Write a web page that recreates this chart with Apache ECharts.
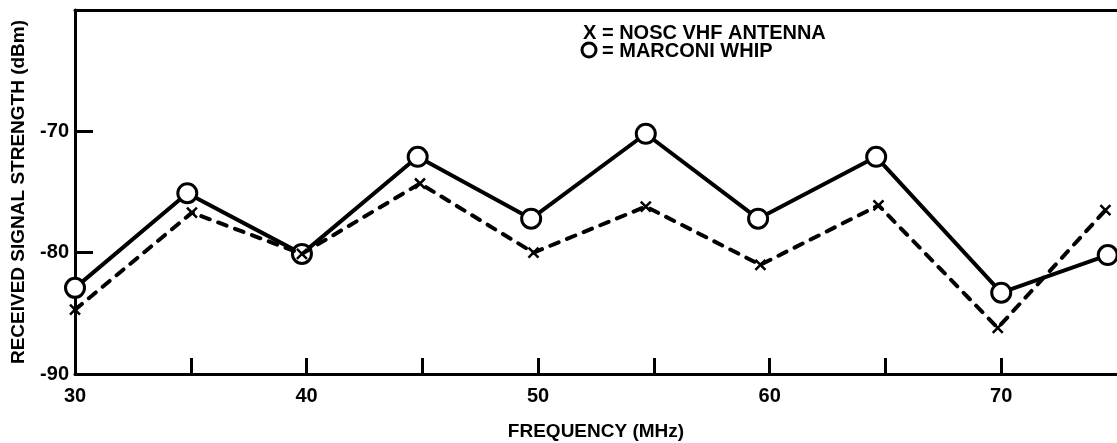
<!DOCTYPE html>
<html>
<head>
<meta charset="utf-8">
<script src="https://cdn.jsdelivr.net/npm/echarts@6/dist/echarts.min.js"></script>
<style>
html,body{margin:0;padding:0;background:#fff;}
#chart{width:1117px;height:443px;}
</style>
</head>
<body>
<div id="chart"></div>
<script>
// Frequencies (MHz) as plotted (hand-drawn positions)
const marconiFreq = [30, 34.85, 39.8, 44.8, 49.7, 54.65, 59.5, 64.6, 70.0, 74.6];
const marconiDbm  = [-82.9, -75.1, -80.1, -72.1, -77.2, -70.2, -77.2, -72.1, -83.3, -80.2];
const noscFreq    = [30, 35.05, 39.8, 44.9, 49.8, 54.65, 59.6, 64.7, 69.85, 74.5];
const noscDbm     = [-84.7, -76.7, -80.1, -74.3, -80.0, -76.2, -81.0, -76.1, -86.2, -76.5];
const xTickValues = [35, 40, 45, 50, 55, 60, 65, 70];
const xTickLabels = [30, 40, 50, 60, 70];
const yTickValues = [-80, -70];
const yTickLabels = [-90, -80, -70];
const legendLines = ['X = NOSC VHF ANTENNA', '= MARCONI WHIP'];
const xTitle = 'FREQUENCY (MHz)';
const yTitle = 'RECEIVED SIGNAL STRENGTH (dBm)';

const FONT = '"Liberation Sans", Arial, sans-serif';
const chart = echarts.init(document.getElementById('chart'), null, {renderer: 'canvas'});

const lbl = {fontFamily: FONT, fontWeight: 'bold', fontSize: 20, color: '#000'};

chart.setOption({
  animation: false,
  backgroundColor: '#fff',
  grid: {left: 75, right: 0, top: 10, bottom: 69, outerBoundsMode: 'none', containLabel: false},
  xAxis: [{
    type: 'value', position: 'bottom', min: 30, max: 75, interval: 5,
    name: xTitle, nameLocation: 'middle', nameGap: 48,
    nameTextStyle: Object.assign({}, lbl, {fontSize: 19}),
    axisLine: {show: true, onZero: false, lineStyle: {color: '#000', width: 3}},
    axisTick: {show: true, inside: true, length: 16, customValues: xTickValues,
               lineStyle: {color: '#000', width: 3}},
    axisLabel: Object.assign({}, lbl, {margin: 12, customValues: xTickLabels}),
    splitLine: {show: false}
  }, {
    type: 'value', position: 'top', min: 30, max: 75,
    axisLine: {show: true, onZero: false, lineStyle: {color: '#000', width: 3}},
    axisTick: {show: false}, axisLabel: {show: false}, splitLine: {show: false}
  }],
  yAxis: {
    type: 'value', min: -90, max: -60, interval: 10,
    name: yTitle, nameLocation: 'middle', nameGap: 47, nameRotate: 90,
    nameTextStyle: Object.assign({}, lbl, {fontSize: 19}),
    axisLine: {show: true, onZero: false, lineStyle: {color: '#000', width: 3}},
    axisTick: {show: true, inside: true, length: 18, customValues: yTickValues,
               lineStyle: {color: '#000', width: 3}},
    axisLabel: Object.assign({}, lbl, {margin: 6, customValues: yTickLabels}),
    splitLine: {show: false}
  },
  series: [{
    name: 'MARCONI WHIP', type: 'line',
    data: marconiFreq.map((f, i) => [f, marconiDbm[i]]),
    symbol: 'circle', symbolSize: 19,
    lineStyle: {color: '#000', width: 4},
    itemStyle: {color: '#fff', borderColor: '#000', borderWidth: 3},
    z: 3
  }, {
    name: 'NOSC VHF ANTENNA', type: 'line',
    data: noscFreq.map((f, i) => [f, noscDbm[i]]),
    symbol: 'path://M0,0L10,10M0,10L10,0', symbolSize: 10,
    lineStyle: {color: '#000', width: 4, type: [9, 9], cap: 'round'},
    itemStyle: {color: '#000', borderColor: '#000', borderWidth: 2.5},
    z: 4
  }],
  graphic: [{
    type: 'text', left: 583, top: 23,
    style: {text: legendLines[0], font: 'bold 20px ' + FONT, fill: '#000'}
  }, {
    type: 'circle', shape: {cx: 589, cy: 50, r: 7},
    style: {fill: '#fff', stroke: '#000', lineWidth: 3}
  }, {
    type: 'text', left: 602, top: 41,
    style: {text: legendLines[1], font: 'bold 20px ' + FONT, fill: '#000'}
  }]
});
</script>
</body>
</html>
